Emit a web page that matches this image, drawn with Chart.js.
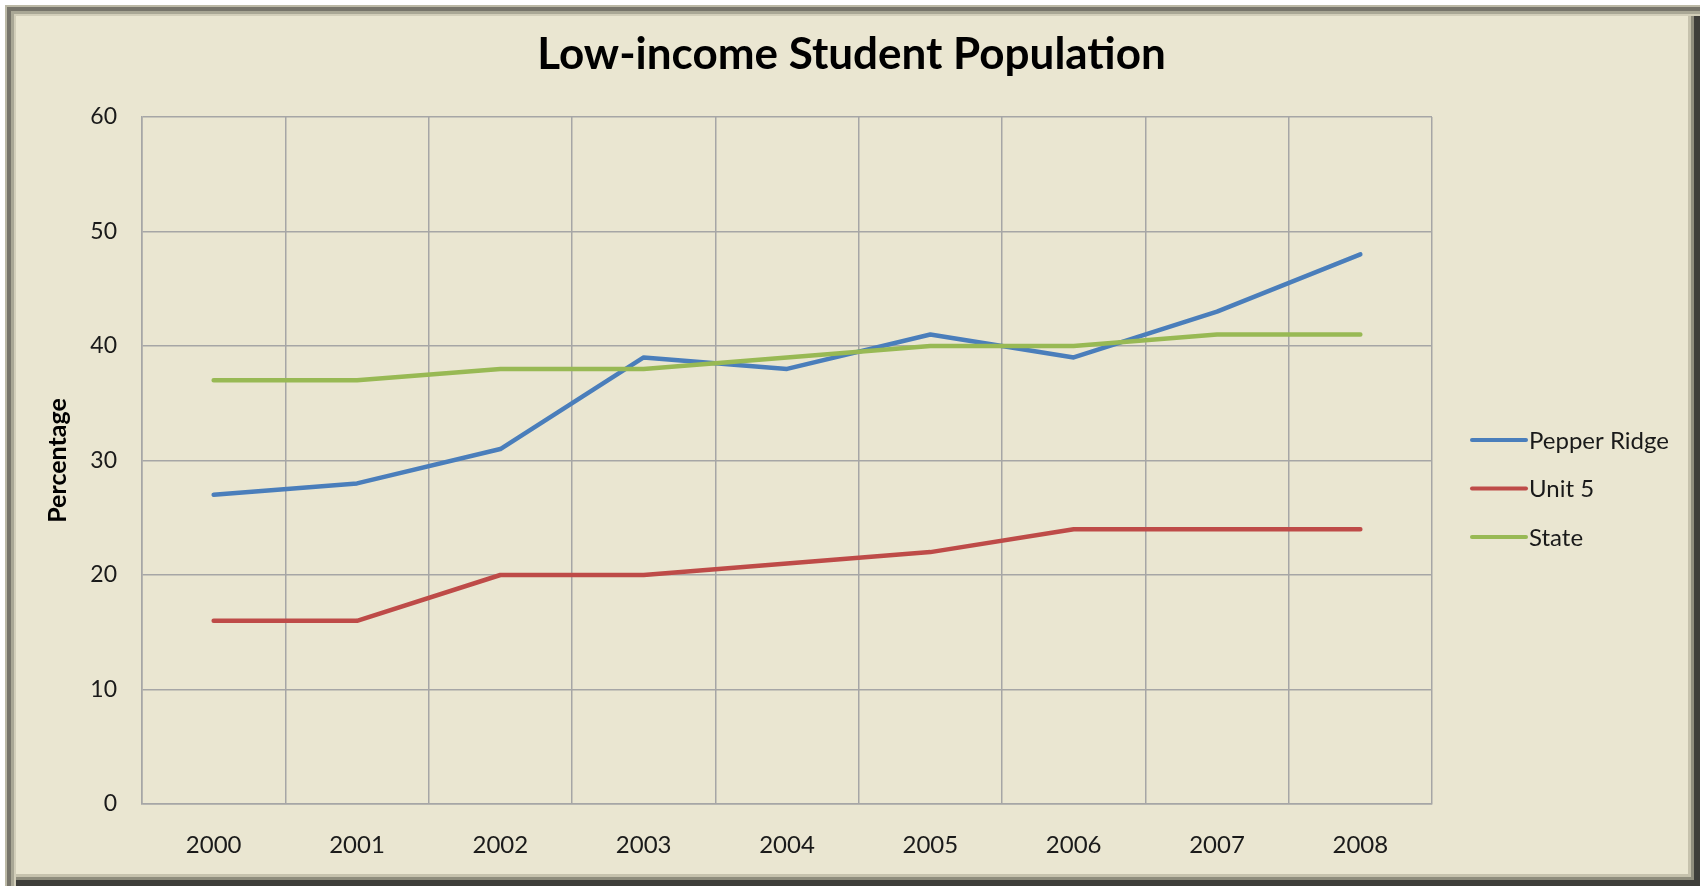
<!DOCTYPE html>
<html>
<head>
<meta charset="utf-8">
<script src="https://cdn.jsdelivr.net/npm/chart.js@4/dist/chart.umd.min.js"></script>
<style>
    html, body { margin: 0; padding: 0; background: #ffffff; }
    #wrap { position: relative; width: 1703px; height: 886px; overflow: hidden; }
    #frame {
        position: absolute; left: 5px; top: 5px; width: 1695px; height: 881px;
        background: #eae6d1;
        box-shadow:
            inset 2px 2px 0 #bcb9a6,
            inset 6px 6px 0 #77756a,
            inset 9px 9px 0 #a9a795,
            inset 11px 11px 0 #d2ceb9,
            inset -6px -6px 0 #3e3e3a,
            inset -9px -9px 0 #8f8d7d,
            inset -12px -12px 0 #c6c2ad;
    }
    #myChart { position: absolute; left: 0; top: 0; }
</style>
</head>
<body>
<div id="wrap">
    <div id="frame"></div>
    <canvas id="myChart" width="1703" height="886"></canvas>
</div>
<script>
const years = ['2000', '2001', '2002', '2003', '2004', '2005', '2006', '2007', '2008'];
const pepperRidge = [27, 28, 31, 39, 38, 41, 39, 43, 48];
const unit5 = [16, 16, 20, 20, 21, 22, 24, 24, 24];
const state = [37, 37, 38, 38, 39, 40, 40, 41, 41];
const yTicks = [0, 10, 20, 30, 40, 50, 60];
const chartTitle = 'Low-income Student Population';

const fontFamily = 'Lato, Calibri, sans-serif';
const gridColor = '#a6a6a6';

// title is centred on the whole frame (not the plot), so it is drawn here
const frameTitle = {
    id: 'frameTitle',
    afterDraw(chart) {
        const ctx = chart.ctx;
        ctx.save();
        ctx.font = 'bold 44px ' + fontFamily;
        ctx.textAlign = 'center';
        ctx.textBaseline = 'middle';
        ctx.fillStyle = '#000000';
        ctx.fillText(chartTitle, chart.width / 2, 55);
        ctx.restore();
    }
};

// legend drawn by hand so the line sits right next to the text like Excel does
const sideLegend = {
    id: 'sideLegend',
    afterDraw(chart) {
        const ctx = chart.ctx;
        const x0 = 1472, lineLen = 54, y0 = 440, rowGap = 48.5;
        ctx.save();
        ctx.font = '24px ' + fontFamily;
        ctx.textBaseline = 'middle';
        ctx.fillStyle = '#1a1a1a';
        chart.data.datasets.forEach((ds, i) => {
            const y = y0 + i * rowGap;
            ctx.strokeStyle = ds.borderColor;
            ctx.lineWidth = 4;
            ctx.lineCap = 'round';
            ctx.beginPath();
            ctx.moveTo(x0, y);
            ctx.lineTo(x0 + lineLen, y);
            ctx.stroke();
            ctx.fillText(ds.label, x0 + lineLen + 3, y + 1);
        });
        ctx.restore();
    }
};

const lineStyle = {
    borderWidth: 4.5,
    pointRadius: 0,
    tension: 0,
    fill: false,
    borderCapStyle: 'round',
    borderJoinStyle: 'round'
};

new Chart(document.getElementById('myChart'), {
    type: 'line',
    data: {
        labels: years,
        datasets: [
            { label: 'Pepper Ridge', data: pepperRidge, borderColor: '#4a7ebb', order: 2, ...lineStyle },
            { label: 'Unit 5', data: unit5, borderColor: '#be4b48', order: 1, ...lineStyle },
            { label: 'State', data: state, borderColor: '#98b954', order: 0, ...lineStyle }
        ]
    },
    options: {
        responsive: false,
        animation: false,
        layout: { padding: { left: 43, right: 271, top: 117, bottom: 20 } },
        plugins: {
            legend: { display: false },
            tooltip: { enabled: false },
            title: { display: false }
        },
        scales: {
            x: {
                offset: true,
                grid: { offset: true, color: gridColor, lineWidth: 1.5, drawTicks: false },
                border: { color: gridColor, width: 1.5 },
                ticks: { color: '#1a1a1a', padding: 27, maxRotation: 0, font: { family: fontFamily, size: 24 } },
                afterFit(scale) { scale.height = 62; }
            },
            y: {
                min: 0,
                max: 60,
                afterBuildTicks(scale) { scale.ticks = yTicks.map(v => ({ value: v })); },
                grid: { color: gridColor, lineWidth: 1.5, drawTicks: false },
                border: { color: gridColor, width: 1.5 },
                ticks: { color: '#1a1a1a', padding: 25, font: { family: fontFamily, size: 23 } },
                title: {
                    display: true,
                    text: 'Percentage',
                    color: '#000000',
                    font: { family: fontFamily, size: 25, weight: 'bold', lineHeight: 1.2 },
                    padding: { top: 0, bottom: 0 }
                },
                afterFit(scale) { scale.width = 99; }
            }
        }
    },
    plugins: [sideLegend, frameTitle]
});
</script>
</body>
</html>
